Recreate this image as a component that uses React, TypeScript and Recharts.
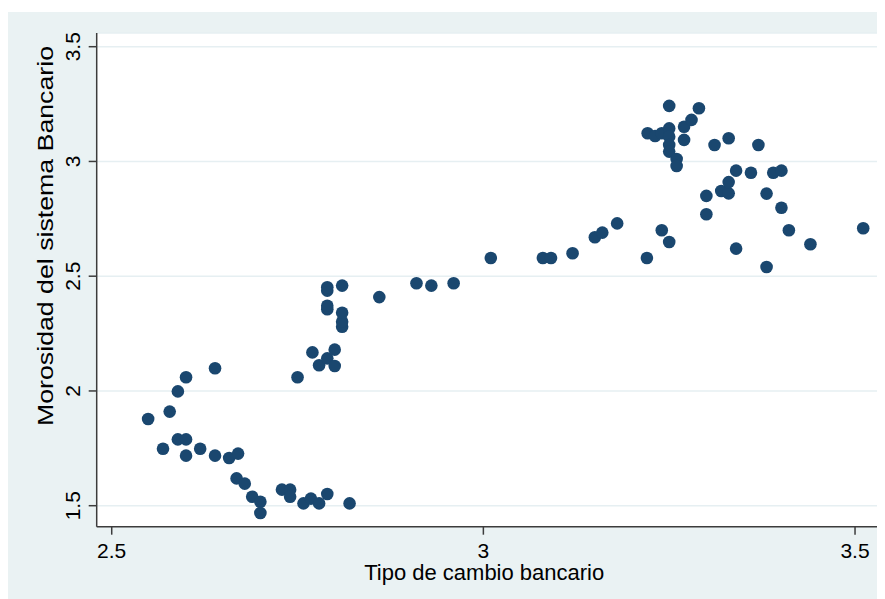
import { CartesianGrid, Label, Scatter, ScatterChart, XAxis, YAxis } from 'recharts';

// tipo de cambio bancario (x) vs morosidad del sistema bancario (y)
const tipoCambio = [
  2.549, 2.578, 2.589, 2.6, 2.639, 2.569, 2.589, 2.6, 2.6, 2.619, 2.639, 2.658, 2.67, 2.668, 2.679, 2.689,
  2.7, 2.7, 2.729, 2.74, 2.74, 2.758, 2.768, 2.779, 2.79, 2.82,
  2.75, 2.77, 2.779, 2.79, 2.8, 2.8, 2.81, 2.81, 2.81, 2.79, 2.79, 2.79, 2.79, 2.81,
  2.86, 2.91, 2.93, 2.96, 3.01, 3.08, 3.091, 3.12, 3.15, 3.16, 3.18,
  3.22, 3.24, 3.25,
  3.221, 3.231, 3.24, 3.25, 3.25, 3.25, 3.25, 3.26, 3.26, 3.25, 3.27, 3.27, 3.28, 3.29,
  3.311, 3.33, 3.37,
  3.3, 3.3, 3.32, 3.33, 3.33, 3.34, 3.36, 3.39, 3.401, 3.381, 3.401, 3.411, 3.34, 3.44, 3.381, 3.511,
];
const morosidad = [
  1.878, 1.91, 1.998, 2.06, 2.099, 1.748, 1.789, 1.789, 1.718, 1.748, 1.718, 1.708, 1.727, 1.619, 1.596, 1.539,
  1.517, 1.468, 1.57, 1.57, 1.539, 1.51, 1.531, 1.51, 1.551, 1.51,
  2.06, 2.168, 2.112, 2.142, 2.109, 2.18, 2.28, 2.302, 2.341, 2.356, 2.371, 2.437, 2.452, 2.459,
  2.409, 2.469, 2.459, 2.469, 2.579, 2.579, 2.579, 2.6, 2.67, 2.69, 2.73,
  2.579, 2.7, 2.649,
  3.123, 3.111, 3.123, 3.144, 3.108, 3.072, 3.043, 3.011, 2.98, 3.242, 3.151, 3.094, 3.181, 3.232,
  3.072, 3.101, 3.072,
  2.85, 2.77, 2.871, 2.861, 2.91, 2.96, 2.951, 2.951, 2.96, 2.86, 2.798, 2.7, 2.62, 2.639, 2.54, 2.709,
];
const xTicks = [2.5, 3, 3.5];
const yTicks = [1.5, 2, 2.5, 3, 3.5];

const data = tipoCambio.map((x, i) => ({ x, y: morosidad[i] }));

const FONT = '"Liberation Sans", Arial, Helvetica, sans-serif';
const AXIS = '#3c3c3c';

const XTick = ({ x, y, payload }: any) => (
  <text x={x} y={y + 21} textAnchor="middle" fontSize={21} fontFamily={FONT} fill="#000">
    {payload.value}
  </text>
);

const YTick = ({ x, y, payload }: any) => (
  <text
    x={x - 7}
    y={y}
    transform={`rotate(-90 ${x - 7} ${y})`}
    textAnchor="middle"
    fontSize={21}
    fontFamily={FONT}
    fill="#000"
  >
    {payload.value}
  </text>
);

const XTitle = ({ viewBox }: any) => (
  <text
    x={viewBox.x + viewBox.width / 2 - 3}
    y={viewBox.y + 53}
    textAnchor="middle"
    fontSize={22}
    fontFamily={FONT}
    fill="#000"
  >
    Tipo de cambio bancario
  </text>
);

// the y title is stretched along its length, as in the Stata export
const YTitle = () => {
  const x = 45;
  const y = 224;
  return (
    <text
      x={x}
      y={y}
      transform={`rotate(-90 ${x} ${y})`}
      textAnchor="middle"
      fontSize={22}
      textLength={380}
      lengthAdjust="spacingAndGlyphs"
      fontFamily={FONT}
      fill="#000"
    >
      Morosidad del sistema Bancario
    </text>
  );
};

const Dot = (props: any) => <circle cx={props.cx} cy={props.cy} r={6.3} fill="#1a476f" />;

export default function App() {
  return (
    <div style={{ paddingTop: 4 }}>
      <ScatterChart
        width={877}
        height={587}
        margin={{ top: 21, right: 7.3, left: 0, bottom: 0 }}
        style={{ background: '#eaf2f3' }}
      >
        <CartesianGrid
          vertical={false}
          fill="#ffffff"
          fillOpacity={1}
          stroke="#e6eff2"
          strokeWidth={1.5}
        />
        <XAxis
          type="number"
          dataKey="x"
          domain={[2.4798, 3.5305]}
          ticks={xTicks}
          allowDataOverflow
          height={72.3}
          tickSize={8}
          tick={<XTick />}
          axisLine={{ stroke: AXIS, strokeWidth: 1.5 }}
          tickLine={{ stroke: AXIS, strokeWidth: 1.5 }}
        >
          <Label content={<XTitle />} />
        </XAxis>
        <YAxis
          type="number"
          dataKey="y"
          domain={[1.4085, 3.5597]}
          ticks={yTicks}
          allowDataOverflow
          width={88.7}
          tickSize={8}
          tick={<YTick />}
          axisLine={{ stroke: AXIS, strokeWidth: 1.5 }}
          tickLine={{ stroke: AXIS, strokeWidth: 1.5 }}
        >
          <Label content={<YTitle />} />
        </YAxis>
        <Scatter data={data} shape={<Dot />} isAnimationActive={false} />
      </ScatterChart>
    </div>
  );
}
